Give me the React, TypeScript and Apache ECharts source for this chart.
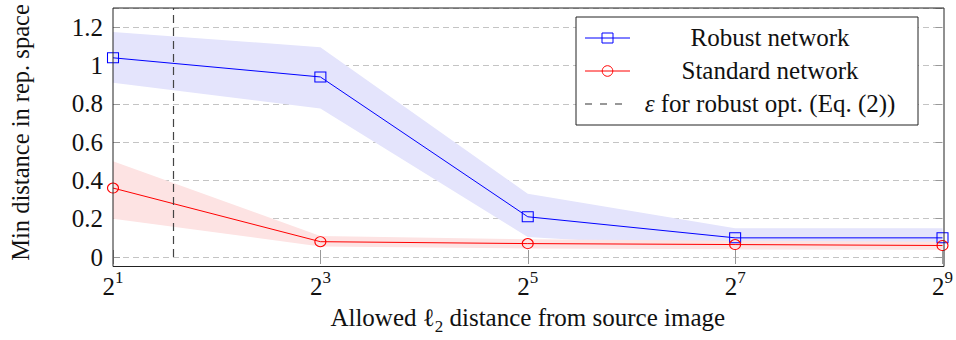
import React, { useEffect, useRef } from 'react';
import * as echarts from 'echarts';

// ---- data ----
const distances = [2, 8, 32, 128, 512];
const robustMean = [1.04, 0.94, 0.21, 0.1, 0.1];
const robustLower = [0.91, 0.775, 0.105, 0.04, 0.04];
const robustUpper = [1.175, 1.095, 0.33, 0.15, 0.15];
const standardMean = [0.36, 0.08, 0.07, 0.065, 0.06];
const standardLower = [0.2, 0.055, 0.045, 0.04, 0.038];
const standardUpper = [0.5, 0.11, 0.093, 0.085, 0.08];
const epsilonValue = 3;
const yMin = 0;
const yMax = 1.3;
const yStep = 0.2;
const legendLabels = ['Robust network', 'Standard network', 'ε for robust opt. (Eq. (2))'];
const yTitle = 'Min distance in rep. space';

const W = 956;
const H = 340;
const GRID = { left: 113, right: 12, top: 8, bottom: 73.5 };
const LEG = { x: 576, y: 17, w: 342, h: 108 };
const FONT = 'Liberation Serif';
const BLUE = '#0000ff';
const RED = '#ff0000';
const BLUE_FILL = '#e4e4fc';
const RED_FILL = '#fde3e3';
const TXT = '#111';

const pairs = (xs: number[], ys: number[]) => xs.map((x, i) => [x, ys[i]]);
const triples = (xs: number[], lo: number[], hi: number[]) => xs.map((x, i) => [x, lo[i], hi[i]]);

function bandSeries(lo: number[], hi: number[], fill: string) {
  return {
    type: 'custom',
    coordinateSystem: 'cartesian2d',
    silent: true,
    z: 1,
    data: triples(distances, lo, hi),
    encode: { x: 0, y: [1, 2] },
    renderItem: (params: any, api: any) => {
      if (params.dataIndex !== 0) return null;
      const upperPts = distances.map((d, i) => api.coord([d, hi[i]]));
      const lowerPts = distances.map((d, i) => api.coord([d, lo[i]])).reverse();
      return {
        type: 'polygon',
        shape: { points: upperPts.concat(lowerPts) },
        style: { fill, stroke: 'none' },
      };
    },
  };
}

export default function App() {
  const ref = useRef<HTMLDivElement>(null);
  useEffect(() => {
    if (!ref.current) return;
    const chart = echarts.init(ref.current, null, { renderer: 'svg' });
    const plotW = W - GRID.left - GRID.right;
    const plotH = H - GRID.top - GRID.bottom;
    const tickStyle = { show: true, inside: true, length: 7, lineStyle: { color: '#999', width: 1 } };
    const xBase = {
      type: 'log' as const,
      logBase: 2,
      min: distances[0],
      max: distances[distances.length - 1],
      interval: 2,
      axisLine: { show: false },
      axisTick: tickStyle,
      splitLine: { show: false },
      minorTick: { show: false },
    };
    const yBase = {
      type: 'value' as const,
      min: yMin,
      max: yMax,
      interval: yStep,
      axisLine: { show: false },
      axisTick: tickStyle,
    };
    const legendText = (i: number, y: number) => ({
      type: 'text', x: LEG.x + 194, y: LEG.y + y, z: 102, silent: true,
      style: { text: legendLabels[i], font: `25px "${FONT}"`, fill: TXT, align: 'center', verticalAlign: 'middle' },
    });
    const option: any = {
      animation: false,
      textStyle: { fontFamily: FONT },
      grid: { left: GRID.left, right: GRID.right, top: GRID.top, bottom: GRID.bottom, containLabel: false },
      xAxis: [
        {
          ...xBase,
          position: 'bottom',
          axisLabel: {
            margin: 12,
            formatter: (v: number) => `{b|2}{s|${Math.round(Math.log2(v))}}`,
            rich: {
              b: { fontSize: 25, lineHeight: 30, verticalAlign: 'bottom', fontFamily: FONT, color: TXT },
              s: { fontSize: 17, lineHeight: 17, verticalAlign: 'top', fontFamily: FONT, color: TXT },
            },
          },
          name: '{t|Allowed }{l|ℓ}{sub|2}{t| distance from source image}',
          nameLocation: 'middle',
          nameGap: 48,
          nameTextStyle: {
            rich: {
              t: { fontSize: 25, lineHeight: 30, verticalAlign: 'top', fontFamily: FONT, color: TXT },
              l: { fontSize: 25, lineHeight: 30, verticalAlign: 'top', fontFamily: FONT, color: TXT },
              sub: { fontSize: 17, lineHeight: 17, verticalAlign: 'bottom', fontFamily: FONT, color: TXT },
            },
          },
        },
        { ...xBase, position: 'top', axisLabel: { show: false } },
      ],
      yAxis: [
        {
          ...yBase,
          position: 'left',
          axisLabel: {
            margin: 10,
            showMaxLabel: false,
            formatter: (v: number) => (v > yMax - yStep / 2 ? '' : `{v|${+v.toFixed(1)}}`),
            rich: { v: { fontSize: 25, fontFamily: FONT, color: TXT } },
          },
          splitLine: { show: true, lineStyle: { color: '#c4c4c4', width: 1, type: [6, 4] } },
          name: yTitle,
          nameLocation: 'middle',
          nameGap: 80,
          nameTextStyle: { fontSize: 24.5, fontFamily: FONT, color: TXT },
        },
        { ...yBase, position: 'right', axisLabel: { show: false }, splitLine: { show: false } },
      ],
      series: [
        bandSeries(robustLower, robustUpper, BLUE_FILL),
        bandSeries(standardLower, standardUpper, RED_FILL),
        {
          type: 'line', name: legendLabels[0], data: pairs(distances, robustMean),
          symbol: 'rect', symbolSize: [11, 10], showAllSymbol: true,
          itemStyle: { color: 'rgba(0,0,0,0)', borderColor: BLUE, borderWidth: 1 },
          lineStyle: { color: BLUE, width: 1 }, z: 3,
        },
        {
          type: 'line', name: legendLabels[1], data: pairs(distances, standardMean),
          symbol: 'circle', symbolSize: [11, 10], showAllSymbol: true,
          itemStyle: { color: 'rgba(0,0,0,0)', borderColor: RED, borderWidth: 1 },
          lineStyle: { color: RED, width: 1 }, z: 3,
          markLine: {
            silent: true, symbol: ['none', 'none'], label: { show: false },
            lineStyle: { color: '#444', width: 1.2, type: [8, 5] },
            data: [{ xAxis: epsilonValue }],
          },
        },
      ],
      graphic: [
        {
          type: 'rect', z: 100, silent: true,
          shape: { x: GRID.left, y: GRID.top, width: plotW, height: plotH },
          style: { fill: 'none', stroke: '#222', lineWidth: 1 },
        },
        {
          type: 'rect', z: 101, silent: true,
          shape: { x: LEG.x, y: LEG.y, width: LEG.w, height: LEG.h },
          style: { fill: '#fff', stroke: '#222', lineWidth: 1 },
        },
        { type: 'line', z: 102, silent: true, shape: { x1: LEG.x + 9, y1: LEG.y + 21, x2: LEG.x + 54, y2: LEG.y + 21 }, style: { stroke: BLUE, lineWidth: 1 } },
        { type: 'rect', z: 102, silent: true, shape: { x: LEG.x + 26, y: LEG.y + 16, width: 11, height: 10 }, style: { fill: 'none', stroke: BLUE, lineWidth: 1 } },
        legendText(0, 20),
        { type: 'line', z: 102, silent: true, shape: { x1: LEG.x + 9, y1: LEG.y + 54, x2: LEG.x + 54, y2: LEG.y + 54 }, style: { stroke: RED, lineWidth: 1 } },
        { type: 'circle', z: 102, silent: true, shape: { cx: LEG.x + 31.5, cy: LEG.y + 54, r: 5.3 }, style: { fill: 'none', stroke: RED, lineWidth: 1 } },
        legendText(1, 53),
        { type: 'line', z: 102, silent: true, shape: { x1: LEG.x + 9, y1: LEG.y + 87, x2: LEG.x + 47, y2: LEG.y + 87 }, style: { stroke: '#333', lineWidth: 1.2, lineDash: [7, 8] } },
        {
          type: 'text', x: LEG.x + 194, y: LEG.y + 86, z: 102, silent: true,
          style: {
            text: '{i|ε}{r|' + legendLabels[2].slice(1) + '}',
            align: 'center', verticalAlign: 'middle',
            rich: {
              i: { fontSize: 25, fontFamily: FONT, fontStyle: 'italic', fill: TXT },
              r: { fontSize: 25, fontFamily: FONT, fill: TXT },
            },
          },
        },
      ],
    };
    chart.setOption(option);
    return () => chart.dispose();
  }, []);
  return <div ref={ref} style={{ position: 'fixed', left: 0, top: 0, width: W, height: H, background: '#fff' }} />;
}
